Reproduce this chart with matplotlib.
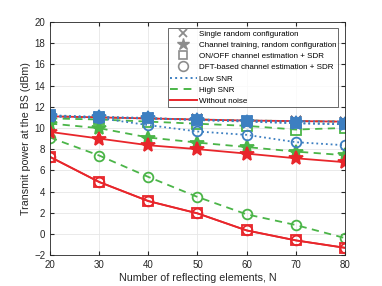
import matplotlib
matplotlib.use("Agg")
import matplotlib.pyplot as plt
from matplotlib.lines import Line2D

plt.rcParams['font.family'] = ['Liberation Sans', 'DejaVu Sans']

N = [20, 30, 40, 50, 60, 70, 80]

# Without noise
wn_single = [11.1, 11.0, 10.9, 10.8, 10.7, 10.65, 10.6]
wn_train = [9.63, 9.0, 8.37, 8.0, 7.58, 7.14, 6.77]
wn_onoff = [7.27, 4.9, 3.1, 1.94, 0.33, -0.61, -1.31]
wn_dft = [7.27, 4.9, 3.1, 1.94, 0.33, -0.61, -1.31]

# High SNR
hs_single = [11.1, 11.0, 10.9, 10.8, 10.7, 10.65, 10.6]
hs_train = [10.42, 9.98, 9.1, 8.62, 8.2, 7.77, 7.43]
hs_onoff = [10.9, 10.8, 10.6, 10.4, 10.2, 9.85, 10.0]
hs_dft = [9.1, 7.4, 5.38, 3.49, 1.85, 0.84, -0.39]

# Low SNR
ls_single = [11.1, 11.0, 10.9, 10.8, 10.7, 10.65, 10.6]
ls_train = [11.1, 11.0, 10.9, 10.75, 10.6, 10.45, 10.35]
ls_onoff = [11.2, 11.05, 10.95, 10.75, 10.65, 10.45, 10.35]
ls_dft = [11.15, 10.93, 10.27, 9.67, 9.35, 8.66, 8.37]

blue = '#3d7fc1'
green = '#4bb548'
red = '#e8262b'

fig = plt.figure(figsize=(3.82, 2.86), dpi=100)
ax = fig.add_axes([0.131, 0.108, 0.772, 0.815])

ms = 7
lw_ = 1.3
def draw(y, color, ls, marker, msz=ms, fill=False):
    ax.plot(N, y, color=color, linestyle=ls, linewidth=lw_, marker=marker,
            markersize=msz, markerfacecolor=(color if fill else 'none'),
            markeredgecolor=color, markeredgewidth=1.3)

# High SNR
draw(hs_dft, green, (0, (4, 3)), 'o')
draw(hs_train, green, (0, (4, 3)), '*', msz=10, fill=True)
draw(hs_onoff, green, (0, (4, 3)), 's')
draw(hs_single, green, (0, (4, 3)), 'x')
# Without noise
draw(wn_dft, red, '-', 'o')
draw(wn_onoff, red, '-', 's')
draw(wn_train, red, '-', '*', msz=10, fill=True)
draw(wn_single, red, '-', 'x')
# Low SNR
draw(ls_dft, blue, ':', 'o')
draw(ls_train, blue, ':', '*', msz=10, fill=True)
draw(ls_onoff, blue, ':', 's', fill=True)
draw(ls_single, blue, ':', 'x')

ax.set_xlim(20, 80)
ax.set_ylim(-2, 20)
ax.set_xticks(N)
ax.set_yticks(range(-2, 21, 2))
ax.tick_params(direction='in', labelsize=7, top=True, right=True, length=3, colors='#262626')
ax.grid(True, color='#e6e6e6', linewidth=0.6)
ax.set_axisbelow(True)
for s in ax.spines.values():
    s.set_color('#262626')
    s.set_linewidth(0.6)
ax.set_xlabel('Number of reflecting elements, N', fontsize=7.7, color='#262626', labelpad=2)
ax.set_ylabel('Transmit power at the BS (dBm)', fontsize=7.7, color='#262626', labelpad=2)

gray = '#8c8c8c'
handles = [
    Line2D([], [], color=gray, linestyle='none', marker='x', markersize=6, markeredgewidth=1.3),
    Line2D([], [], color=gray, linestyle='none', marker='*', markersize=9),
    Line2D([], [], color=gray, linestyle='none', marker='s', markersize=6, markerfacecolor='none', markeredgewidth=1.2),
    Line2D([], [], color=gray, linestyle='none', marker='o', markersize=7, markerfacecolor='none', markeredgewidth=1.2),
    Line2D([], [], color=blue, linestyle=':', linewidth=1.4),
    Line2D([], [], color=green, linestyle=(0, (4, 3)), linewidth=1.4),
    Line2D([], [], color=red, linestyle='-', linewidth=1.4),
]
labels = ['Single random configuration',
          'Channel training, random configuration',
          'ON/OFF channel estimation + SDR',
          'DFT-based channel estimation + SDR',
          'Low SNR', 'High SNR', 'Without noise']
leg = ax.legend(handles, labels, loc='upper right', bbox_to_anchor=(0.978, 0.975),
                fontsize=5.8, frameon=True, fancybox=False, edgecolor='#262626',
                handlelength=3.4, handletextpad=0.25, labelspacing=0.45,
                borderpad=0.25, borderaxespad=0.0)
leg.get_frame().set_linewidth(0.6)

fig.savefig('out.png', dpi=100)
